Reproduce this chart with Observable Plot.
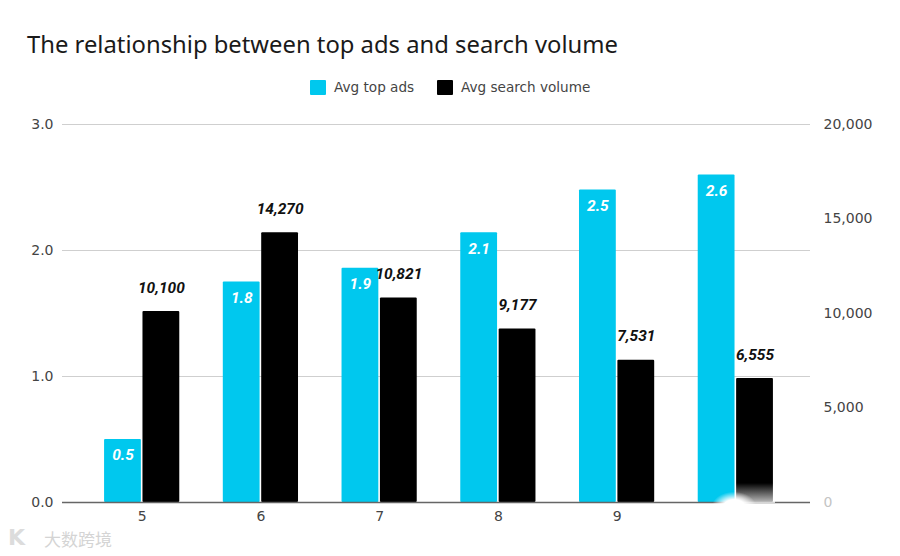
<!DOCTYPE html>
<html><head><meta charset="utf-8">
<script src="https://cdn.jsdelivr.net/npm/d3@7"></script>
<script src="https://cdn.jsdelivr.net/npm/@observablehq/plot@0.6"></script>
<style>
html,body{margin:0;padding:0;background:#fff;}
#wrap{position:relative;width:900px;height:556px;overflow:hidden;}
#head{height:100px;position:relative;}
#title{position:absolute;left:27px;top:27px;font:23.8px/34px "Noto Sans";color:#1a1a1a;white-space:nowrap;}
.lg{position:absolute;top:79px;font:13.6px/17px "DejaVu Sans";color:#444;white-space:nowrap;}
.sw{position:absolute;top:80px;width:16px;height:15px;border-radius:1px;}
#mark{position:absolute;left:44px;top:528px;font:17px/22px "Noto Sans CJK SC";color:#d4d4d4;}
#logo{position:absolute;left:8px;top:526px;font:bold 22px/24px "DejaVu Sans";color:#dcdcdc;}
#fade{position:absolute;left:735px;top:483px;width:40px;height:20px;background:linear-gradient(to bottom,rgba(255,255,255,0),rgba(255,255,255,.75));}
#blob{position:absolute;left:712px;top:492px;width:44px;height:30px;background:radial-gradient(ellipse at center,#fff 35%,rgba(255,255,255,0) 72%);}
svg{display:block;}
</style></head><body>
<div id="wrap">
<div id="head">
<div id="title">The relationship between top ads and search volume</div>
<div class="sw" style="left:310px;background:#00c8ee"></div><div class="lg" style="left:334px">Avg top ads</div>
<div class="sw" style="left:437px;background:#000"></div><div class="lg" style="left:461px">Avg search volume</div>
</div>
<div id="chart"></div>
<div id="fade"></div><div id="blob"></div>
<div id="logo">K</div><div id="mark">大数跨境</div>
</div>
<script>
const categories = [5,6,7,8,9,10];
const tickLabels = ["5","6","7","8","9",""];
const topAds = [0.5,1.75,1.86,2.14,2.48,2.6];
const topAdsLabels = ["0.5","1.8","1.9","2.1","2.5","2.6"];
const searchVolume = [10100,14270,10821,9177,7531,6555];
const leftTicks = [0,1,2,3];
const rightTicks = [0,5000,10000,15000,20000];
const colors = ["#00c8ee","#000000"];
const RIGHT_MAX = 20000, LEFT_MAX = 3;
const toLeft = v => v * LEFT_MAX / RIGHT_MAX;

const adsRows = categories.map((c,i)=>({cat:c, y:topAds[i], label:topAdsLabels[i]}));
const searchRows = categories.map((c,i)=>({cat:c, y:toLeft(searchVolume[i]), label:d3.format(",")(searchVolume[i])}));
const font = "DejaVu Sans";
const labelFont = "Roboto";
const shift = 19.2;
const labelStyle = {x:"cat", y:"y", text:"label", fontFamily:labelFont, fontWeight:"bold", fontStyle:"italic", fontSize:15.5};
const plot = Plot.plot({
  width:900, height:456, marginLeft:62, marginRight:90, marginTop:24, marginBottom:54,
  style:{fontFamily:font, fontSize:"14px", background:"#fff"},
  x:{type:"band", domain:categories, range:[64.5,812.5], paddingInner:0.69, paddingOuter:0.495, round:false, label:null},
  y:{domain:[0,LEFT_MAX], label:null},
  marks:[
    Plot.gridY(leftTicks.slice(1),{stroke:"#cfcfcf", strokeOpacity:1, strokeWidth:1}),
    Plot.axisY(leftTicks,{anchor:"left", tickSize:0, tickPadding:9, tickFormat:d3.format(".1f"), fill:"#444", label:null}),
    Plot.axisY(rightTicks.slice(1).map(toLeft),{anchor:"right", tickSize:0, tickPadding:13, tickFormat:d=>d3.format(",")(Math.round(d*RIGHT_MAX/LEFT_MAX)), fill:"#444", label:null}),
    Plot.axisY([0],{anchor:"right", tickSize:0, tickPadding:13, tickFormat:()=>"0", fill:"#c4c4c4", label:null}),
    Plot.axisX({anchor:"bottom", tickSize:0, tickPadding:9, tickFormat:d=>tickLabels[categories.indexOf(d)], fill:"#444", label:null}),
    Plot.barY(adsRows,{x:"cat", y:"y", dx:-shift, fill:colors[0], rx:1}),
    Plot.barY(searchRows,{x:"cat", y:"y", dx:shift, fill:colors[1], rx:1}),
    Plot.ruleY([0],{stroke:"#666", strokeWidth:1.5}),
    Plot.text(adsRows,{...labelStyle, dx:-shift, dy:16, fill:"#fff"}),
    Plot.text(searchRows,{...labelStyle, dx:shift, dy:-24, fill:"#111"})
  ]
});
document.getElementById("chart").appendChild(plot);
</script>
</body></html>
